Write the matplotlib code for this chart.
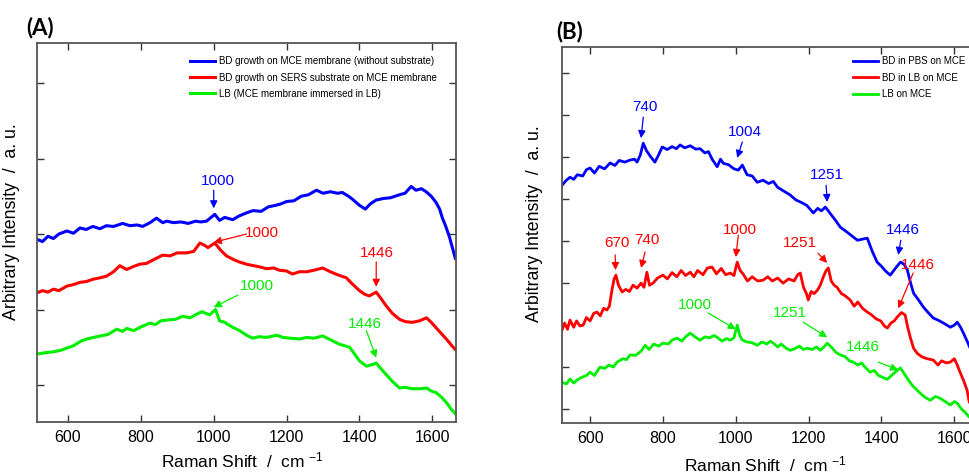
import matplotlib
matplotlib.use("Agg")
import matplotlib.pyplot as plt

plt.rcParams['font.family'] = ['Liberation Sans', 'DejaVu Sans']
plt.rcParams['mathtext.fontset'] = 'custom'
plt.rcParams['mathtext.rm'] = 'Liberation Sans'
plt.rcParams['mathtext.default'] = 'regular'

NARROW = ['Liberation Sans Narrow', 'Liberation Sans']
BLUE = '#0000ff'
RED = '#ff0000'
GREEN = '#00ee00'

# ---------------- panel A : spectra ----------------
a_blue_x = [515, 530, 545, 560, 575, 597, 615, 633, 650, 668, 688, 705, 725, 750, 770, 790, 805, 825,
            843, 860, 871, 890, 910, 930, 950, 965, 980, 1003, 1016, 1030, 1052, 1070, 1090, 1108,
            1130, 1150, 1170, 1185, 1200, 1220, 1240, 1260, 1282, 1300, 1320, 1340, 1353, 1370, 1381,
            1400, 1416, 1430, 1446, 1465, 1485, 1510, 1525, 1542, 1555, 1570, 1583, 1597, 1610, 1620,
            1627, 1637, 1647, 1655, 1663]
a_blue_y = [2.93, 2.90, 2.97, 2.94, 3.00, 3.04, 3.01, 3.08, 3.06, 3.10, 3.07, 3.11, 3.10, 3.14, 3.11,
            3.12, 3.10, 3.15, 3.21, 3.15, 3.17, 3.15, 3.16, 3.14, 3.17, 3.16, 3.17, 3.26, 3.18, 3.22,
            3.19, 3.24, 3.28, 3.31, 3.30, 3.36, 3.38, 3.40, 3.43, 3.44, 3.50, 3.52, 3.58, 3.54, 3.56,
            3.54, 3.55, 3.50, 3.46, 3.38, 3.33, 3.40, 3.45, 3.47, 3.48, 3.52, 3.54, 3.63, 3.58, 3.60,
            3.56, 3.50, 3.42, 3.33, 3.22, 3.10, 2.96, 2.82, 2.68]

a_red_x = [515, 530, 545, 560, 575, 597, 615, 633, 650, 668, 688, 705, 725, 742, 761, 780, 797, 815,
           835, 860, 880, 900, 926, 945, 962, 975, 984, 1003, 1020, 1035, 1055, 1070, 1090, 1110,
           1130, 1145, 1165, 1180, 1200, 1216, 1235, 1255, 1275, 1299, 1320, 1340, 1364, 1380, 1400,
           1415, 1427, 1446, 1460, 1473, 1490, 1510, 1525, 1545, 1565, 1584, 1597, 1610, 1625, 1640,
           1652, 1663]
a_red_y = [2.22, 2.25, 2.23, 2.27, 2.25, 2.31, 2.33, 2.36, 2.37, 2.40, 2.42, 2.44, 2.50, 2.58, 2.53,
           2.57, 2.60, 2.61, 2.66, 2.72, 2.71, 2.75, 2.75, 2.77, 2.88, 2.85, 2.82, 2.88, 2.78, 2.71,
           2.66, 2.63, 2.60, 2.58, 2.56, 2.54, 2.55, 2.52, 2.51, 2.47, 2.50, 2.50, 2.52, 2.55, 2.50,
           2.46, 2.42, 2.34, 2.25, 2.20, 2.18, 2.23, 2.14, 2.05, 1.95, 1.87, 1.84, 1.83, 1.85, 1.89,
           1.83, 1.76, 1.68, 1.60, 1.53, 1.47]

a_green_x = [515, 540, 560, 580, 597, 615, 635, 652, 670, 690, 710, 734, 750, 761, 780, 805, 825, 840,
             855, 871, 895, 915, 935, 950, 967, 989, 1005, 1016, 1030, 1050, 1071, 1090, 1107, 1125,
             1145, 1173, 1190, 1210, 1236, 1255, 1275, 1299, 1320, 1345, 1373, 1385, 1400, 1419, 1435,
             1446, 1460, 1473, 1490, 1510, 1525, 1545, 1565, 1584, 1597, 1610, 1625, 1640, 1652, 1663]
a_green_y = [1.41, 1.43, 1.44, 1.46, 1.49, 1.52, 1.58, 1.61, 1.63, 1.65, 1.67, 1.74, 1.71, 1.75, 1.72,
             1.78, 1.82, 1.80, 1.85, 1.86, 1.87, 1.91, 1.89, 1.93, 1.97, 1.93, 2.00, 1.85, 1.83, 1.77,
             1.72, 1.66, 1.62, 1.64, 1.63, 1.66, 1.63, 1.62, 1.61, 1.63, 1.62, 1.65, 1.60, 1.54, 1.50,
             1.42, 1.32, 1.25, 1.27, 1.29, 1.21, 1.14, 1.05, 0.96, 0.97, 0.95, 0.95, 0.96, 0.92, 0.90,
             0.84, 0.76, 0.68, 0.62]

a_labels = ['BD growth on MCE membrane (without substrate)',
            'BD growth on SERS substrate on MCE membrane',
            'LB (MCE membrane immersed in LB)']

# ---------------- panel B : spectra ----------------
b_blue_x = [523, 535, 545, 555, 565, 580, 590, 600, 612, 625, 640, 655, 668, 680, 695, 710, 722, 729,
            738, 746, 755, 767, 778, 788, 798, 812, 825, 837, 847, 860, 875, 890, 902, 915, 925, 935,
            949, 958, 966, 980, 995, 1007, 1018, 1031, 1045, 1059, 1075, 1090, 1103, 1115, 1130, 1149,
            1165, 1180, 1195, 1213, 1225, 1235, 1246, 1260, 1275, 1287, 1300, 1315, 1334, 1350, 1361,
            1375, 1388, 1400, 1412, 1424, 1438, 1452, 1462, 1471, 1480, 1488, 1500, 1515, 1528, 1542,
            1555, 1570, 1589, 1600, 1608, 1617, 1625, 1635, 1645, 1655, 1665]
b_blue_y = [6.33, 6.45, 6.52, 6.47, 6.58, 6.55, 6.70, 6.74, 6.62, 6.78, 6.72, 6.86, 6.80, 6.92, 6.88,
            6.93, 6.95, 6.88, 7.05, 7.33, 7.15, 7.00, 6.88, 7.05, 7.24, 7.18, 7.25, 7.20, 7.29, 7.22,
            7.27, 7.19, 7.20, 7.10, 7.13, 6.95, 6.77, 6.95, 6.85, 6.82, 6.72, 6.69, 6.81, 6.58, 6.55,
            6.40, 6.45, 6.37, 6.42, 6.28, 6.20, 6.10, 5.98, 5.92, 5.85, 5.67, 5.78, 5.72, 5.81, 5.65,
            5.48, 5.33, 5.25, 5.15, 5.02, 5.05, 5.07, 4.75, 4.50, 4.40, 4.28, 4.19, 4.35, 4.50, 4.45,
            4.31, 4.00, 3.76, 3.62, 3.43, 3.30, 3.17, 3.12, 3.05, 2.95, 3.00, 3.07, 2.95, 2.81, 2.62,
            2.42, 2.25, 2.10]

b_red_x = [523, 530, 538, 545, 555, 563, 572, 581, 590, 600, 610, 619, 628, 637, 646, 653, 660, 666,
           671, 678, 688, 698, 708, 718, 729, 740, 748, 756, 763, 773, 785, 800, 812, 825, 838, 850,
           862, 875, 885, 895, 910, 922, 935, 947, 960, 972, 985, 995, 1004, 1012, 1020, 1032, 1045,
           1060, 1075, 1088, 1100, 1115, 1130, 1145, 1160, 1170, 1177, 1186, 1194, 1199, 1207, 1215,
           1224, 1232, 1240, 1248, 1254, 1262, 1270, 1278, 1290, 1300, 1314, 1325, 1335, 1348, 1361,
           1372, 1385, 1398, 1408, 1416, 1426, 1435, 1443, 1455, 1465, 1472, 1479, 1488, 1498, 1510,
           1525, 1542, 1555, 1565, 1578, 1589, 1600, 1608, 1617, 1625, 1635, 1641, 1650, 1665]
b_red_y = [2.88, 3.05, 2.90, 3.12, 2.95, 3.10, 2.98, 3.00, 3.18, 3.10, 3.28, 3.31, 3.22, 3.40, 3.36,
           3.45, 3.83, 4.10, 4.19, 3.95, 3.79, 3.85, 3.80, 3.95, 3.88, 4.00, 3.90, 4.26, 3.95, 4.00,
           4.12, 4.19, 4.10, 4.25, 4.15, 4.30, 4.18, 4.26, 4.15, 4.30, 4.20, 4.36, 4.38, 4.22, 4.35,
           4.20, 4.24, 4.18, 4.50, 4.30, 4.22, 4.05, 4.15, 4.05, 4.07, 4.15, 4.05, 4.12, 4.00, 4.10,
           4.05, 4.20, 4.24, 3.90, 3.75, 3.60, 3.80, 3.75, 3.83, 3.95, 4.14, 4.30, 4.36, 4.05, 3.95,
           3.90, 3.75, 3.70, 3.60, 3.45, 3.55, 3.40, 3.31, 3.25, 3.15, 3.10, 2.98, 2.93, 3.05, 3.10,
           3.19, 3.30, 3.24, 2.95, 2.71, 2.45, 2.33, 2.25, 2.20, 2.17, 2.05, 2.15, 2.10, 2.12, 2.20,
           2.05, 1.85, 1.69, 1.45, 1.17, 1.05, 0.95]

b_green_x = [523, 535, 545, 555, 564, 575, 590, 600, 612, 627, 640, 652, 664, 674, 690, 700, 710, 725,
             740, 751, 762, 775, 788, 800, 815, 826, 839, 852, 862, 875, 888, 902, 915, 928, 940, 949,
             962, 975, 985, 995, 1004, 1010, 1017, 1030, 1045, 1059, 1072, 1085, 1095, 1103, 1115,
             1125, 1138, 1149, 1162, 1175, 1185, 1196, 1210, 1222, 1232, 1242, 1251, 1262, 1275, 1287,
             1300, 1312, 1323, 1335, 1345, 1357, 1369, 1380, 1392, 1405, 1416, 1430, 1443, 1452, 1462,
             1474, 1486, 1498, 1510, 1520, 1534, 1548, 1561, 1575, 1589, 1600, 1608, 1620, 1630, 1641,
             1653, 1665]
b_green_y = [1.64, 1.60, 1.72, 1.62, 1.69, 1.75, 1.80, 1.88, 1.80, 2.00, 1.97, 2.05, 2.00, 2.12, 2.20,
             2.18, 2.29, 2.28, 2.38, 2.52, 2.42, 2.55, 2.50, 2.57, 2.55, 2.65, 2.69, 2.62, 2.72, 2.81,
             2.72, 2.64, 2.72, 2.70, 2.75, 2.71, 2.62, 2.68, 2.64, 2.70, 3.00, 2.78, 2.65, 2.60, 2.58,
             2.52, 2.60, 2.55, 2.62, 2.57, 2.48, 2.55, 2.45, 2.40, 2.44, 2.50, 2.42, 2.45, 2.42, 2.48,
             2.40, 2.48, 2.57, 2.48, 2.35, 2.29, 2.25, 2.15, 2.12, 2.05, 2.10, 1.98, 1.88, 1.92, 1.80,
             1.75, 1.71, 1.82, 1.92, 1.98, 1.85, 1.69, 1.55, 1.45, 1.35, 1.28, 1.21, 1.30, 1.26, 1.18,
             1.10, 1.18, 1.14, 1.00, 0.92, 0.81, 0.78, 0.72]

b_labels = ['BD in PBS on MCE', 'BD in LB on MCE', 'LB on MCE']

# peak labels: (wavenumber, colour, text x, text y, arrow tail x, tail y, tip y)
a_peaks = [(1000, BLUE, 1011, 3.70, 1000, 3.58, 3.34),
           (1000, RED, 1131, 3.01, 1090, 3.00, 2.89),
           (1446, RED, 1449, 2.75, 1446, 2.63, 2.30),
           (1000, GREEN, 1118, 2.31, 1066, 2.19, 2.03),
           (1446, GREEN, 1414, 1.81, 1419, 1.72, 1.36)]
b_peaks = [(740, BLUE, 751, 8.19, 746, 7.95, 7.45),
           (1004, BLUE, 1026, 7.60, 1018, 7.36, 6.98),
           (1251, BLUE, 1251, 6.57, 1248, 6.33, 5.93),
           (1446, BLUE, 1460, 5.26, 1453, 5.02, 4.67),
           (670, RED, 674, 4.95, 669, 4.67, 4.31),
           (740, RED, 757, 5.02, 751, 4.74, 4.36),
           (1000, RED, 1012, 5.26, 1007, 5.14, 4.62),
           (1251, RED, 1177, 4.95, 1226, 4.71, 4.48),
           (1446, RED, 1501, 4.43, 1487, 4.24, 3.40),
           (1000, GREEN, 888, 3.48, 924, 3.29, 2.90),
           (1251, GREEN, 1149, 3.29, 1185, 3.07, 2.71),
           (1446, GREEN, 1350, 2.48, 1391, 2.12, 1.93)]


def style_axes(ax, xlim, ylim, yticks):
    ax.set_xlim(*xlim)
    ax.set_ylim(*ylim)
    ax.set_xticks([600, 800, 1000, 1200, 1400, 1600])
    ax.set_yticks(yticks)
    ax.set_yticklabels([])
    ax.tick_params(direction='in', length=5, width=1, top=True, right=True,
                   labelsize=11.5, colors='#333333', labelcolor='black', pad=6)
    for sp in ax.spines.values():
        sp.set_color('#555555')
        sp.set_linewidth(1.3)
    ax.set_xlabel('Raman Shift  /  cm $^{-1}$', fontsize=12.5)
    ax.set_ylabel('Arbitrary Intensity  /  a. u.', fontsize=12.8)


def draw_peaks(ax, peaks):
    for wn, col, tx, ty, ax_x, ay0, ay1 in peaks:
        ax.annotate('', xy=(wn, ay1), xytext=(ax_x, ay0),
                    arrowprops=dict(arrowstyle='-|>', color=col, lw=0.9,
                                    mutation_scale=11, shrinkA=0, shrinkB=0))
        ax.text(tx, ty, str(wn), color=col, fontsize=11, family=NARROW,
                ha='center', va='center')


fig = plt.figure(figsize=(9.69, 4.74), dpi=100)

axA = fig.add_axes([0.0382, 0.1097, 0.4324, 0.7996])
axA.plot(a_blue_x, a_blue_y, color=BLUE, lw=2.2, label=a_labels[0])
axA.plot(a_red_x, a_red_y, color=RED, lw=2.2, label=a_labels[1])
axA.plot(a_green_x, a_green_y, color=GREEN, lw=2.2, label=a_labels[2])
style_axes(axA, (515, 1665), (0.51, 5.53), [1, 2, 3, 4, 5])
axA.xaxis.set_label_coords(0.49, -0.075)
axA.yaxis.set_label_coords(-0.04, 0.53)
draw_peaks(axA, a_peaks)
axA.legend(loc='upper left', bbox_to_anchor=(0.365, 0.965), frameon=False,
           prop=dict(family=NARROW, size=7.0), handlelength=2.6, handletextpad=0.4,
           labelspacing=0.65, borderpad=0, borderaxespad=0)

axB = fig.add_axes([0.580, 0.1076, 0.4293, 0.7932])
axB.plot(b_blue_x, b_blue_y, color=BLUE, lw=2.0, label=b_labels[0])
axB.plot(b_red_x, b_red_y, color=RED, lw=2.0, label=b_labels[1])
axB.plot(b_green_x, b_green_y, color=GREEN, lw=2.0, label=b_labels[2])
style_axes(axB, (523, 1665), (0.67, 9.62), list(range(1, 10)))
axB.xaxis.set_label_coords(0.49, -0.085)
axB.yaxis.set_label_coords(-0.046, 0.53)
draw_peaks(axB, b_peaks)
axB.legend(loc='upper left', bbox_to_anchor=(0.70, 0.975), frameon=False,
           prop=dict(family=NARROW, size=7.0), handlelength=2.6, handletextpad=0.4,
           labelspacing=0.65, borderpad=0, borderaxespad=0)

fig.text(0.041, 0.943, '(A)', fontsize=16, fontweight='bold',
         family=['Lato', 'DejaVu Sans'], ha='center', va='center')
fig.text(0.588, 0.934, '(B)', fontsize=16, fontweight='bold',
         family=['Lato', 'DejaVu Sans'], ha='center', va='center')

fig.savefig('out.png', dpi=100)
